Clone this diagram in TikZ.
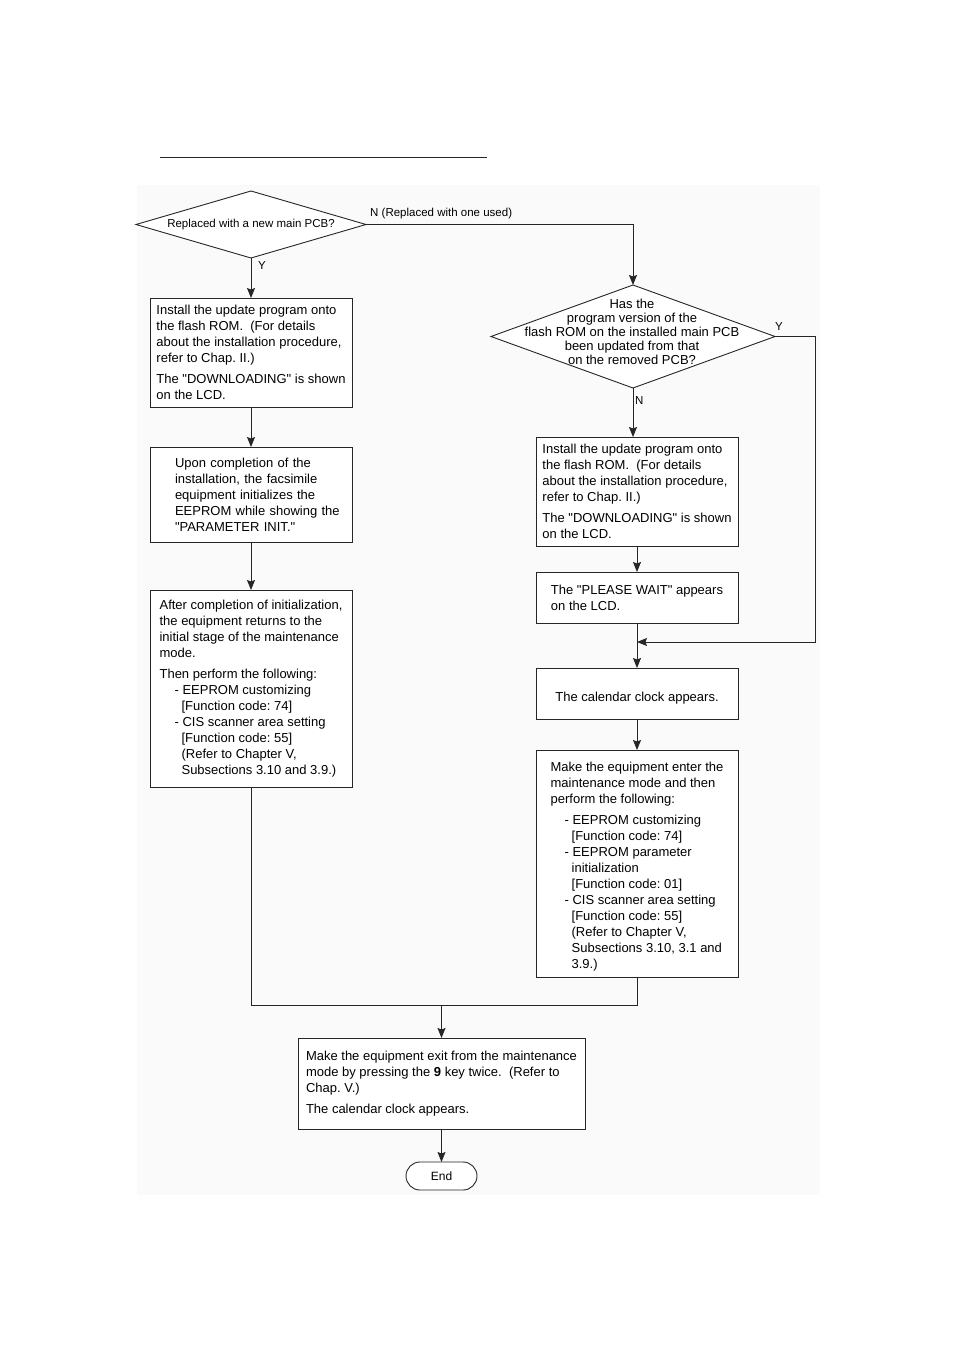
\documentclass[tikz,border=0pt]{standalone}
\usepackage{fontspec}
\setmainfont{Liberation Sans}[Ligatures=TeXOff]
\usetikzlibrary{arrows.meta,positioning,shapes.geometric}

\begin{document}
\frenchspacing
\begin{tikzpicture}[
  x=1pt, y=-1pt,
  font=\fontsize{13}{16}\selectfont,
  box/.style={draw=black!85, fill=white, align=left, minimum width=202pt, inner sep=0pt, outer sep=0pt, line width=0.9pt},
  decision/.style={diamond, draw=black!85, fill=white, inner sep=0pt, outer sep=0pt, line width=0.9pt},
  term/.style={draw=black!85, fill=white, rounded corners=14pt, minimum width=71pt, minimum height=28pt, inner sep=0pt, outer sep=0pt, line width=0.9pt, font=\fontsize{12}{14}\selectfont},
  small/.style={font=\fontsize{11.5}{14}\selectfont, inner sep=1pt},
  flow/.style={draw=black!85, line width=0.9pt},
  arr/.style={flow, -{Stealth[length=10pt, width=8pt, inset=1.5pt]}}
]
\useasboundingbox (0,0) rectangle (954,1351);

% ---------- Page backdrop and heading rule ----------
\fill[black!2] (137,185) rectangle (820,1195);
\draw[flow] (160,157) -- (487,157);

% ---------- First question ----------
\node[decision, minimum width=230pt, minimum height=67pt] (newpcb) at (251,224.5) {};
\node[small] (newpcbtxt) at (251,225) {Replaced with a new main PCB?};

% ---------- Left column: new main PCB ----------
\node[box, minimum height=109pt, anchor=north west] (inst) at (150,298) {Install the update program onto\\the flash ROM.\ \ (For details\\about the installation procedure,\\refer to Chap. II.)\\[5pt]The "DOWNLOADING" is shown\\on the LCD.};
\node[box, minimum height=95pt, text width=188pt, inner xsep=7pt, below=40pt of inst] (init) {\leftskip=18pt Upon completion of the\\installation, the facsimile\\equipment initializes the\\EEPROM while showing the\\"PARAMETER INIT."\par};
\node[box, minimum height=197pt, below=48pt of init] (after) {After completion of initialization,\\the equipment returns to the\\initial stage of the maintenance\\mode.\\[5pt]Then perform the following:\\\hspace*{15pt}- EEPROM customizing\\\hspace*{22pt}[Function code: 74]\\\hspace*{15pt}- CIS scanner area setting\\\hspace*{22pt}[Function code: 55]\\\hspace*{22pt}(Refer to Chapter V,\\\hspace*{22pt}Subsections 3.10 and 3.9.)};

% ---------- Second question ----------
\node[decision, minimum width=284pt, minimum height=103pt] (verpcb) at (633,336.5) {};
\node[align=center, inner sep=0pt, font=\fontsize{13}{14}\selectfont] (verpcbtxt) at (632,332) {Has the\\program version of the\\flash ROM on the installed main PCB\\been updated from that\\on the removed PCB?};

% ---------- Right column: used main PCB ----------
\node[box, minimum height=109pt, anchor=north west] (inst2) at (536,437) {Install the update program onto\\the flash ROM.\ \ (For details\\about the installation procedure,\\refer to Chap. II.)\\[5pt]The "DOWNLOADING" is shown\\on the LCD.};
\node[box, minimum height=51pt, below=26pt of inst2] (wait) {The "PLEASE WAIT" appears\\on the LCD.};
\node[box, minimum height=51pt, align=center, below=45pt of wait] (clock) {\rule{0pt}{18pt}The calendar clock appears.};
\node[box, minimum height=227pt, below=31pt of clock] (enter) {\rule{0pt}{16pt}Make the equipment enter the\\maintenance mode and then\\perform the following:\\[5pt]\hspace*{14pt}- EEPROM customizing\\\hspace*{21pt}[Function code: 74]\\\hspace*{14pt}- EEPROM parameter\\\hspace*{21pt}initialization\\\hspace*{21pt}[Function code: 01]\\\hspace*{14pt}- CIS scanner area setting\\\hspace*{21pt}[Function code: 55]\\\hspace*{21pt}(Refer to Chapter V,\\\hspace*{21pt}Subsections 3.10, 3.1 and\\\hspace*{21pt}3.9.)};

% ---------- Common end ----------
\node[box, minimum width=287pt, minimum height=91pt, anchor=north west] (exit) at (298,1038) {Make the equipment exit from the maintenance\\mode by pressing the \textbf{9} key twice.\ \ (Refer to\\Chap. V.)\\[5pt]The calendar clock appears.};
\node[term, below=33pt of exit] (end) {End};

\coordinate (merge) at (wait.south |- 0,642);
\coordinate (join) at (exit.north |- 0,1005);

% ---------- Arrows ----------
\draw[arr] (newpcb.south) -- (inst.north);
\node[small, anchor=west] (ylab) at (257,266) {Y};
\draw[arr] (newpcb.east) -| (verpcb.north);
\node[small, anchor=south west] (nlab) at (369,220) {N (Replaced with one used)};

\draw[arr] (inst) -- (init);
\draw[arr] (init) -- (after);

\draw[arr] (verpcb.south) -- (verpcb.south |- inst2.north);
\node[small, anchor=west] (nlab2) at (634,401) {N};
\draw[arr] (verpcb.east) -- ++(40pt,0pt) |- (merge);
\node[small, anchor=west] (ylab2) at (774,327) {Y};

\draw[arr] (inst2) -- (wait);
\draw[arr] (wait) -- (clock);
\draw[arr] (clock) -- (enter);

\draw[flow] (after.south) |- (join);
\draw[flow] (enter.south) |- (join);
\draw[arr] (join) -- (exit.north);
\draw[arr] (exit) -- (end);

\end{tikzpicture}
\end{document}
